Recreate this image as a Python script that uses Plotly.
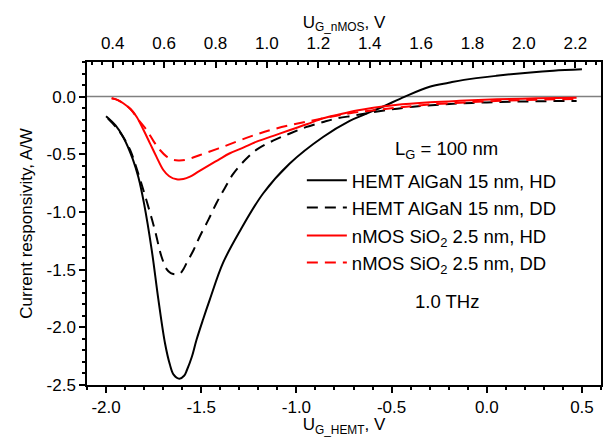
import plotly.graph_objects as go

# ---- data ----
hemt_hd_x = [-2.0, -1.95, -1.91, -1.86, -1.83, -1.80, -1.76, -1.725, -1.69, -1.665, -1.645, -1.615,
             -1.59, -1.575, -1.55, -1.525, -1.49, -1.455, -1.385, -1.295, -1.175, -1.035, -0.86,
             -0.72, -0.65, -0.55, -0.43, -0.3, -0.2, -0.12, 0.05, 0.23, 0.35, 0.5]
hemt_hd_y = [-0.17, -0.25, -0.35, -0.54, -0.70, -0.93, -1.33, -1.76, -2.14, -2.32, -2.41, -2.445,
             -2.42, -2.37, -2.26, -2.11, -1.93, -1.76, -1.44, -1.16, -0.84, -0.58, -0.35,
             -0.21, -0.16, -0.09, 0.0, 0.085, 0.12, 0.145, 0.18, 0.21, 0.225, 0.237]

hemt_dd_x = [-1.99, -1.95, -1.91, -1.874, -1.84, -1.804, -1.77, -1.743, -1.708, -1.68, -1.66, -1.635,
             -1.612, -1.595, -1.576, -1.54, -1.507, -1.46, -1.419, -1.375, -1.332, -1.27, -1.209,
             -1.12, -1.034, -0.95, -0.859, -0.79, -0.7, -0.614, -0.5, -0.386, -0.25, -0.124, 0.0,
             0.139, 0.3, 0.472]
hemt_dd_y = [-0.19, -0.26, -0.35, -0.46, -0.62, -0.81, -1.0, -1.16, -1.39, -1.50, -1.53, -1.54,
             -1.535, -1.50, -1.44, -1.33, -1.21, -1.06, -0.92, -0.79, -0.67, -0.55, -0.46,
             -0.38, -0.32, -0.265, -0.22, -0.19, -0.165, -0.14, -0.11, -0.088, -0.07, -0.058, -0.05,
             -0.044, -0.04, -0.037]

nmos_hd_x = [0.396, 0.42, 0.441, 0.47, 0.493, 0.52, 0.545, 0.57, 0.597, 0.62, 0.649, 0.675, 0.701,
             0.73, 0.766, 0.81, 0.856, 0.91, 0.96, 1.025, 1.09, 1.155, 1.219, 1.28, 1.35, 1.414,
             1.5, 1.635, 1.75, 1.894, 2.05, 2.205]
nmos_hd_y = [-0.015, -0.03, -0.058, -0.11, -0.174, -0.29, -0.405, -0.52, -0.636, -0.69, -0.717,
             -0.715, -0.694, -0.655, -0.607, -0.55, -0.491, -0.44, -0.39, -0.34, -0.289, -0.24,
             -0.188, -0.155, -0.12, -0.096, -0.072, -0.049, -0.036, -0.023, -0.015, -0.009]

nmos_dd_x = [0.396, 0.42, 0.441, 0.47, 0.5, 0.532, 0.56, 0.584, 0.61, 0.636, 0.66, 0.685, 0.74,
             0.83, 0.934, 1.025, 1.155, 1.323, 1.45, 1.6, 1.8, 2.0, 2.2]
nmos_dd_y = [-0.015, -0.03, -0.058, -0.11, -0.2, -0.289, -0.39, -0.463, -0.52, -0.549, -0.553,
             -0.548, -0.506, -0.434, -0.347, -0.283, -0.217, -0.145, -0.11, -0.075, -0.047, -0.03,
             -0.02]

# tick labels (hyphen minus, as in the reference)
x_tickvals = [-2.0, -1.5, -1.0, -0.5, 0.0, 0.5]
x_ticktext = ["-2.0", "-1.5", "-1.0", "-0.5", "0.0", "0.5"]
x2_tickvals = [0.4, 0.6, 0.8, 1.0, 1.2, 1.4, 1.6, 1.8, 2.0, 2.2]
x2_ticktext = ["0.4", "0.6", "0.8", "1.0", "1.2", "1.4", "1.6", "1.8", "2.0", "2.2"]
y_tickvals = [0.0, -0.5, -1.0, -1.5, -2.0, -2.5]
y_ticktext = ["0.0", "-0.5", "-1.0", "-1.5", "-2.0", "-2.5"]

FONT = "Liberation Sans, Arial, sans-serif"
FS = 17      # axis text
FL = 18.5    # legend / annotations

fig = go.Figure()
fig.add_trace(go.Scatter(x=hemt_hd_x, y=hemt_hd_y, mode="lines", line=dict(color="black", width=2),
                         line_shape="spline", name="HEMT AlGaN 15 nm, HD", legendgroup="hemt"))
fig.add_trace(go.Scatter(x=hemt_dd_x, y=hemt_dd_y, mode="lines",
                         line=dict(color="black", width=2, dash="11px,7px"),
                         line_shape="spline", name="HEMT AlGaN 15 nm, DD", legendgroup="hemt"))
fig.add_trace(go.Scatter(x=nmos_hd_x, y=nmos_hd_y, mode="lines", xaxis="x2",
                         line=dict(color="#ff0000", width=2), line_shape="spline",
                         name="nMOS SiO<sub>2</sub> 2.5 nm, HD", legendgroup="nmos"))
fig.add_trace(go.Scatter(x=nmos_dd_x, y=nmos_dd_y, mode="lines", xaxis="x2",
                         line=dict(color="#ff0000", width=2, dash="11px,7px"), line_shape="spline",
                         name="nMOS SiO<sub>2</sub> 2.5 nm, DD", legendgroup="nmos"))

fig.add_shape(type="line", xref="paper", x0=0, x1=1, yref="y", y0=0, y1=0,
              line=dict(color="#808080", width=1.5), layer="below")

axis_common = dict(showgrid=False, zeroline=False, showline=True, linecolor="black", linewidth=1.5,
                   tickfont=dict(family=FONT, size=FS, color="black"), tickcolor="black",
                   automargin=False, tickmode="array")

fig.update_layout(
    width=608, height=437,
    margin=dict(l=87, r=7, t=62, b=52),
    paper_bgcolor="white", plot_bgcolor="white",
    font=dict(family=FONT, size=FS, color="black"),
    showlegend=True,
    legend=dict(x=0.418, y=0.691, xanchor="left", yanchor="top", bgcolor="rgba(0,0,0,0)",
                font=dict(family=FONT, size=FL, color="black"), tracegroupgap=1,
                traceorder="grouped", itemwidth=40),
    xaxis=dict(range=[-2.1, 0.6], tickvals=x_tickvals, ticktext=x_ticktext,
               ticks="outside", ticklen=6, tickwidth=1.5,
               minor=dict(dtick=0.1, tick0=0, ticks="outside", ticklen=3, tickcolor="black"),
               title=dict(text="U<sub>G_HEMT</sub>, V", font=dict(family=FONT, size=FS), standoff=2),
               mirror=False, **axis_common),
    xaxis2=dict(range=[0.3, 2.3], tickvals=x2_tickvals, ticktext=x2_ticktext,
                overlaying="x", side="top", anchor="y",
                ticks="inside", ticklen=6, tickwidth=1.5, ticklabelstandoff=4,
                minor=dict(dtick=0.04, tick0=0, ticks="inside", ticklen=3, tickcolor="black"),
                title=dict(text="U<sub>G_nMOS</sub>, V", font=dict(family=FONT, size=FS), standoff=0),
                **axis_common),
    yaxis=dict(range=[-2.5, 0.3], tickvals=y_tickvals, ticktext=y_ticktext,
               ticks="outside", ticklen=6, tickwidth=1.5, mirror=True,
               minor=dict(dtick=0.1, tick0=0, ticks="outside", ticklen=3, tickcolor="black"),
               title=dict(text="Current responsivity, A/W", font=dict(family=FONT, size=FS), standoff=10),
               **axis_common),
)

fig.add_annotation(xref="paper", yref="paper", x=0.70, y=0.727, xanchor="center", yanchor="middle",
                   showarrow=False, text="L<sub>G</sub> = 100 nm",
                   font=dict(family=FONT, size=FL, color="black"))
fig.add_annotation(xref="paper", yref="paper", x=0.70, y=0.257, xanchor="center", yanchor="middle",
                   showarrow=False, text="1.0 THz",
                   font=dict(family=FONT, size=FL, color="black"))

fig.write_html("out.html", config={"displayModeBar": False},
               post_script="document.body.style.margin='0px';")
